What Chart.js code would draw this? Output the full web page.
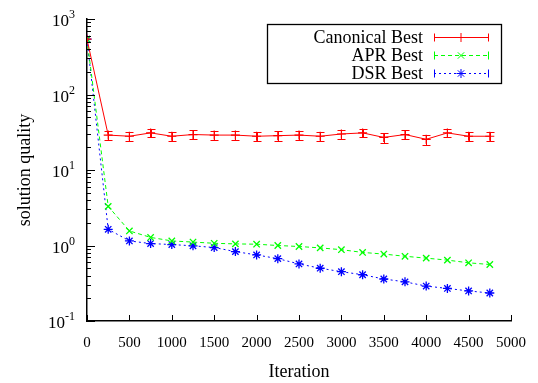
<!DOCTYPE html>
<html>
<head>
<meta charset="utf-8">
<script src="https://cdn.jsdelivr.net/npm/chart.js@4.4.1/dist/chart.umd.min.js"></script>
<style>
  html, body { margin: 0; padding: 0; background: #fff; }
  #wrap { width: 538px; height: 383px; }
</style>
</head>
<body>
<div id="wrap"><canvas id="myChart" width="538" height="383"></canvas></div>
<script>
'use strict';

// data
let iterations = [0, 250, 500, 750, 1000, 1250, 1500, 1750, 2000, 2250, 2500, 2750, 3000, 3250, 3500, 3750, 4000, 4250, 4500, 4750];
let canonicalBest = [540, 29, 28, 31, 28, 29.5, 29, 29, 28, 28.5, 29, 28, 30, 31, 27, 29.5, 25.5, 31, 28, 28];
let canonicalErr = [0, 4, 4, 4, 4, 4, 4, 4, 4, 4, 4, 4, 4, 4, 4, 4, 4, 4, 4, 4];
let aprBest = [540, 3.3, 1.56, 1.28, 1.15, 1.11, 1.07, 1.05, 1.04, 1.0, 0.97, 0.93, 0.88, 0.81, 0.77, 0.72, 0.68, 0.64, 0.59, 0.56];
let dsrBest = [540, 1.64, 1.15, 1.06, 1.03, 0.99, 0.94, 0.83, 0.75, 0.67, 0.57, 0.50, 0.45, 0.41, 0.36, 0.33, 0.29, 0.27, 0.25, 0.235];

let seriesNames = ['Canonical Best', 'APR Best', 'DSR Best'];
let yTickExps = [-1, 0, 1, 2, 3];
let xTicks = [0, 500, 1000, 1500, 2000, 2500, 3000, 3500, 4000, 4500, 5000];

const serif = "'Liberation Serif', 'DejaVu Serif', serif";

function toPoints(vals){
  let pts = [];
  for(let i = 0; i < iterations.length; i++){
    pts.push({x: iterations[i], y: vals[i]});
  }
  return pts;
}

// ticks inside the axes, error bars, y labels with exponents, boxed legend
const gnuplotLook = {
  id: 'gnuplotLook',
  afterDatasetsDraw(chart){
    const ctx = chart.ctx;
    const xs = chart.scales.x;
    const ys = chart.scales.y;

    // error bars on canonical series
    ctx.save();
    ctx.strokeStyle = '#ff0000';
    ctx.lineWidth = 1;
    for(let i = 0; i < iterations.length; i++){
      if(!canonicalErr[i]) continue;
      let px = Math.round(xs.getPixelForValue(iterations[i])) + 0.5;
      let top = Math.round(ys.getPixelForValue(canonicalBest[i] + canonicalErr[i])) + 0.5;
      let bot = Math.round(ys.getPixelForValue(canonicalBest[i] - canonicalErr[i])) + 0.5;
      ctx.beginPath();
      ctx.moveTo(px, top); ctx.lineTo(px, bot);
      ctx.moveTo(px - 4, top); ctx.lineTo(px + 4, top);
      ctx.moveTo(px - 4, bot); ctx.lineTo(px + 4, bot);
      ctx.stroke();
    }
    ctx.restore();
  },
  afterDraw(chart){
    const ctx = chart.ctx;
    const xs = chart.scales.x;
    const ys = chart.scales.y;
    const area = chart.chartArea;

    ctx.save();
    ctx.strokeStyle = '#000';
    ctx.lineWidth = 1;
    ctx.beginPath();
    // x ticks, pointing up
    for(let v of xTicks){
      let px = Math.round(xs.getPixelForValue(v)) + 0.5;
      ctx.moveTo(px, area.bottom); ctx.lineTo(px, area.bottom - 6);
    }
    // y ticks, pointing right
    for(let e of yTickExps){
      let py = Math.round(ys.getPixelForValue(Math.pow(10, e))) + 0.5;
      ctx.moveTo(area.left, py); ctx.lineTo(area.left + 8, py);
      if(e < 3){
        for(let m = 2; m <= 9; m++){
          let my = Math.round(ys.getPixelForValue(m * Math.pow(10, e))) + 0.5;
          ctx.moveTo(area.left, my); ctx.lineTo(area.left + 4, my);
        }
      }
    }
    ctx.stroke();

    // y labels 10^n
    ctx.fillStyle = '#000';
    for(let e of yTickExps){
      let py = ys.getPixelForValue(Math.pow(10, e));
      let expTxt = e < 0 ? '-' + (-e) : String(e);
      ctx.font = '12px ' + serif;
      let ew = ctx.measureText(expTxt).width;
      ctx.font = '17px ' + serif;
      let bw = ctx.measureText('10').width;
      let right = 75;
      ctx.textBaseline = 'alphabetic';
      ctx.textAlign = 'left';
      ctx.fillText('10', right - ew - bw, py + 7);
      ctx.font = '12px ' + serif;
      ctx.fillText(expTxt, right - ew, py - 1);
    }

    // legend
    let lx = 267.5, ly = 24.5, lw = 234, lh = 59;
    ctx.strokeStyle = '#000';
    ctx.lineWidth = 1.3;
    ctx.strokeRect(lx, ly, lw, lh);
    let rows = [37, 55, 73];
    let cols = ['#ff0000', '#00ff00', '#0000ff'];
    let dashes = [[], [4, 3], [2, 3]];
    let styles = ['cross', 'crossRot', 'star'];
    for(let i = 0; i < 3; i++){
      let y = rows[i] + 0.5;
      ctx.fillStyle = '#000';
      ctx.font = '18px ' + serif;
      ctx.textAlign = 'right';
      ctx.textBaseline = 'middle';
      ctx.fillText(seriesNames[i], 423, rows[i] + 1);
      ctx.strokeStyle = cols[i];
      ctx.lineWidth = 1;
      ctx.setLineDash(dashes[i]);
      ctx.beginPath();
      ctx.moveTo(434, y); ctx.lineTo(488, y);
      ctx.stroke();
      ctx.setLineDash([]);
      ctx.beginPath();
      ctx.moveTo(434.5, y - 4); ctx.lineTo(434.5, y + 4);
      ctx.moveTo(488.5, y - 4); ctx.lineTo(488.5, y + 4);
      ctx.stroke();
      Chart.helpers.drawPoint(ctx, {pointStyle: styles[i], radius: 4.5, borderWidth: 1.2}, 461, y);
    }
    ctx.restore();
  }
};

let ctx = document.getElementById('myChart').getContext('2d');
let myChart = new Chart(ctx, {
  type: 'line',
  data: {
    datasets: [{
      label: seriesNames[0],
      data: toPoints(canonicalBest),
      borderColor: '#ff0000',
      backgroundColor: '#ff0000',
      borderWidth: 1,
      pointStyle: 'cross',
      pointRadius: 4.5,
      pointBorderWidth: 1.2,
      tension: 0
    },{
      label: seriesNames[1],
      data: toPoints(aprBest),
      borderColor: '#00ff00',
      backgroundColor: '#00ff00',
      borderWidth: 1,
      borderDash: [4, 3],
      pointStyle: 'crossRot',
      pointRadius: 4.5,
      pointBorderWidth: 1.3,
      tension: 0
    },{
      label: seriesNames[2],
      data: toPoints(dsrBest),
      borderColor: '#0000ff',
      backgroundColor: '#0000ff',
      borderWidth: 1,
      borderDash: [2, 3],
      pointStyle: 'star',
      pointRadius: 4.5,
      pointBorderWidth: 1.3,
      tension: 0
    }]
  },
  options: {
    responsive: false,
    animation: false,
    layout: { padding: { top: 19, right: 27, left: 0, bottom: 0 } },
    plugins: {
      legend: { display: false },
      tooltip: { enabled: false }
    },
    scales: {
      x: {
        type: 'linear',
        min: 0,
        max: 5000,
        grid: { display: false },
        border: { display: true, color: '#000', width: 1.5 },
        ticks: {
          stepSize: 500,
          color: '#000',
          padding: 5,
          maxRotation: 0,
          autoSkip: false,
          font: { family: serif, size: 15 },
          callback: function(v){ return String(v); }
        },
        title: {
          display: true,
          text: 'Iteration',
          color: '#000',
          font: { family: serif, size: 18 },
          padding: { top: 2, bottom: 0 }
        },
        afterFit(scale){ scale.height = 62; }
      },
      y: {
        type: 'logarithmic',
        min: 0.1,
        max: 1000,
        grid: { display: false },
        border: { display: true, color: '#000', width: 1.5 },
        ticks: { display: false },
        title: {
          display: true,
          text: 'solution quality',
          color: '#000',
          font: { family: serif, size: 18 },
          padding: { top: 14, bottom: 0 }
        },
        afterFit(scale){ scale.width = 87; }
      }
    }
  },
  plugins: [gnuplotLook]
});
</script>
</body>
</html>
